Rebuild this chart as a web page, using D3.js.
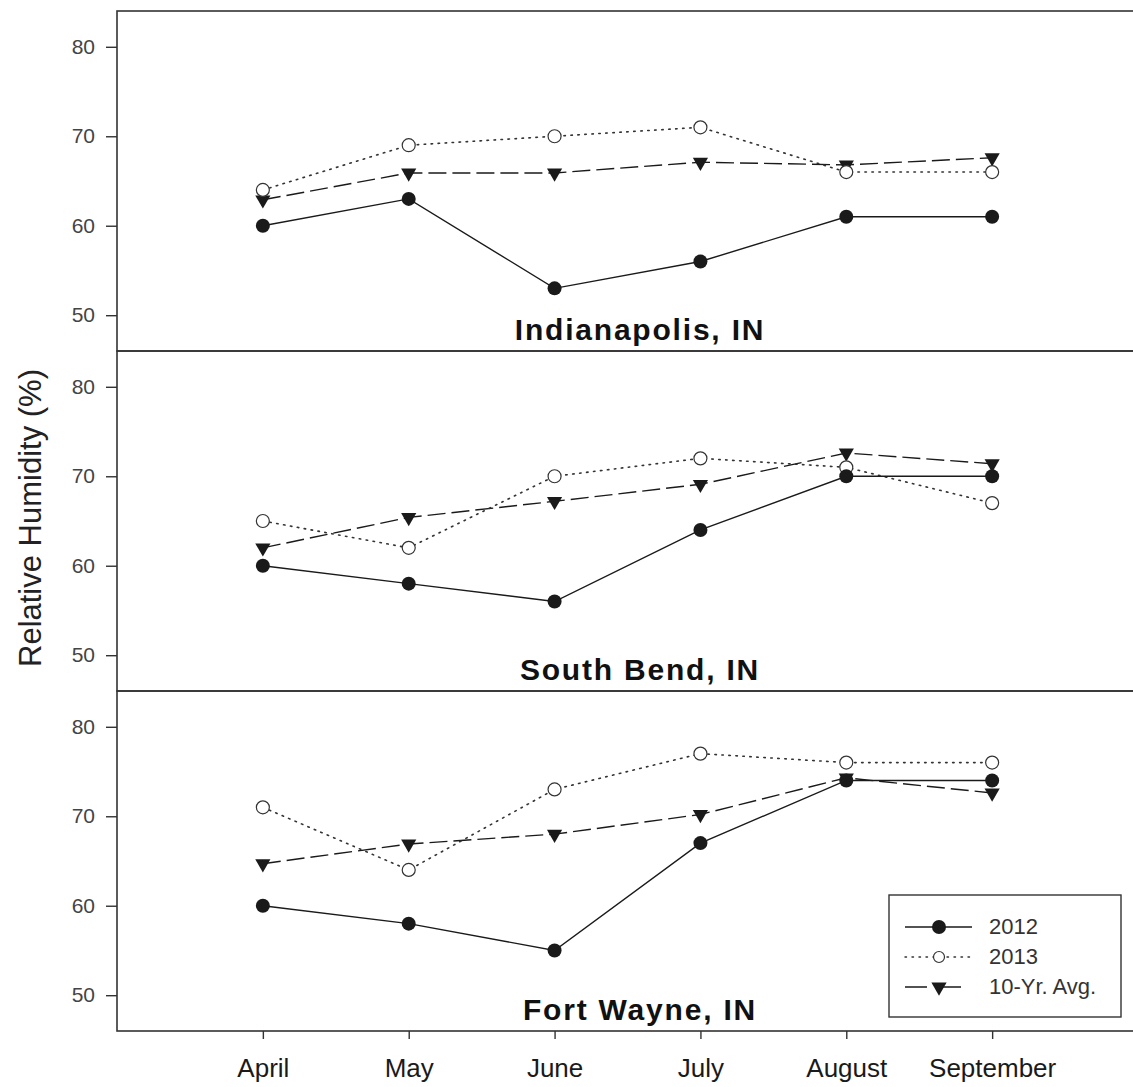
<!DOCTYPE html>
<html>
<head>
<meta charset="utf-8">
<script src="https://cdn.jsdelivr.net/npm/d3@7"></script>
<style>
  body { margin: 0; background: #fff; }
  svg { display: block; font-family: "Liberation Sans", Arial, sans-serif; }
</style>
</head>
<body>
<svg class="rh" width="1133" height="1087"></svg>
<script>
const months = ["April", "May", "June", "July", "August", "September"];
const yTicks = [50, 60, 70, 80];
const cities = ["Indianapolis, IN", "South Bend, IN", "Fort Wayne, IN"];
const seriesNames = ["2012", "2013", "10-Yr. Avg."];

// values, one array per city and series
const indy2012 = [60, 63, 53, 56, 61, 61];
const indy2013 = [64, 69, 70, 71, 66, 66];
const indyAvg  = [62.9, 65.9, 65.9, 67.1, 66.8, 67.6];
const sb2012   = [60, 58, 56, 64, 70, 70];
const sb2013   = [65, 62, 70, 72, 71, 67];
const sbAvg    = [62, 65.4, 67.2, 69.1, 72.6, 71.4];
const fw2012   = [60, 58, 55, 67, 74, 74];
const fw2013   = [71, 64, 73, 77, 76, 76];
const fwAvg    = [64.7, 66.9, 68, 70.2, 74.3, 72.6];

(function drawPanels() {
    const svg = d3.select("svg.rh");
    const left = 117, right = 1138, top = 11, panelH = 340;
    const ink = "#1a1a1a", axisInk = "#333";

    const panels = [
        [indy2012, indy2013, indyAvg],
        [sb2012, sb2013, sbAvg],
        [fw2012, fw2013, fwAvg]
    ];

    const styles = [
        {dash: null, marker: "filled"},
        {dash: "1.5,5.5", marker: "open"},
        {dash: "18,6", marker: "triangle"}
    ];

    const x = d3.scalePoint().domain(months).range([left, right]).padding(1);
    const tri = d3.symbol().type(d3.symbolTriangle).size(100);

    function drawMarker(sel, kind) {
        if (kind === "triangle") {
            sel.append("path")
                .attr("d", tri)
                .attr("transform", "rotate(180)")
                .attr("fill", ink);
        } else {
            sel.append("circle")
                .attr("r", kind === "filled" ? 7 : 6.5)
                .attr("fill", kind === "filled" ? ink : "#fff")
                .attr("stroke", kind === "filled" ? "none" : "#333")
                .attr("stroke-width", 1.2);
        }
    }

    panels.forEach(function(series, p) {
        const y0 = top + p * panelH;
        const y = d3.scaleLinear().domain([46, 84]).range([y0 + panelH, y0]);
        const g = svg.append("g");

        g.append("rect")
            .attr("x", left).attr("y", y0)
            .attr("width", right - left).attr("height", panelH)
            .attr("fill", "none").attr("stroke", axisInk).attr("stroke-width", 1.6);

        const yAxis = g.append("g")
            .attr("transform", "translate(" + left + ",0)")
            .call(d3.axisLeft(y).tickValues(yTicks).tickSize(11).tickPadding(11));
        yAxis.select(".domain").remove();
        yAxis.selectAll("line").attr("stroke", axisInk).attr("stroke-width", 1.4);
        yAxis.selectAll("text")
            .attr("fill", "#444")
            .style("font-size", "21px")
            .style("font-family", "'Liberation Sans', Arial, sans-serif");

        const line = d3.line()
            .x(function(d, i) { return x(months[i]); })
            .y(function(d) { return y(d); });

        // draw the avg first, then 2013, then 2012 on top
        [2, 1, 0].forEach(function(s) {
            g.append("path")
                .datum(series[s])
                .attr("d", line)
                .attr("fill", "none")
                .attr("stroke", s === 1 ? "#333" : ink)
                .attr("stroke-width", s === 1 ? 1.6 : 1.4)
                .attr("stroke-linecap", s === 1 ? "round" : "butt")
                .attr("stroke-dasharray", styles[s].dash);
            g.selectAll(".m" + s)
                .data(series[s])
                .enter()
                .append("g")
                .attr("class", "m" + s)
                .attr("transform", function(d, i) {
                    return "translate(" + x(months[i]) + "," + y(d) + ")";
                })
                .call(drawMarker, styles[s].marker);
        });

        g.append("text")
            .attr("x", 640)
            .attr("y", y0 + panelH - 11)
            .attr("text-anchor", "middle")
            .attr("fill", "#111")
            .style("font-size", "30px")
            .style("font-weight", "bold")
            .style("letter-spacing", "1.8px")
            .text(cities[p]);
    });

    const bottom = top + 3 * panelH;
    const xAxis = svg.append("g")
        .attr("transform", "translate(0," + bottom + ")")
        .call(d3.axisBottom(x).tickSize(8).tickPadding(20));
    xAxis.select(".domain").remove();
    xAxis.selectAll("line").attr("stroke", axisInk).attr("stroke-width", 1.4);
    xAxis.selectAll("text")
        .attr("fill", "#1a1a1a")
        .style("font-size", "26px")
        .style("font-family", "'Liberation Sans', Arial, sans-serif");

    svg.append("text")
        .attr("transform", "translate(41,518) rotate(-90)")
        .attr("text-anchor", "middle")
        .attr("fill", "#222")
        .style("font-size", "31px")
        .text("Relative Humidity (%)");

    // legend
    const lg = svg.append("g");
    lg.append("rect")
        .attr("x", 889).attr("y", 895)
        .attr("width", 232).attr("height", 122)
        .attr("fill", "#fff").attr("stroke", axisInk).attr("stroke-width", 1.4);
    seriesNames.forEach(function(name, s) {
        const ly = 927 + s * 30;
        lg.append("line")
            .attr("x1", 905).attr("x2", 972)
            .attr("y1", ly).attr("y2", ly)
            .attr("stroke", s === 1 ? "#333" : ink)
            .attr("stroke-width", 1.4)
            .attr("stroke-linecap", s === 1 ? "round" : "butt")
            .attr("stroke-dasharray", s === 2 ? "22,12" : styles[s].dash);
        const mk = lg.append("g").attr("transform", "translate(939," + ly + ")");
        if (s === 1) {
            mk.append("circle").attr("r", 5.5).attr("fill", "#fff")
                .attr("stroke", "#333").attr("stroke-width", 1.2);
        } else {
            drawMarker(mk, styles[s].marker);
        }
        lg.append("text")
            .attr("x", 989).attr("y", ly + 7)
            .attr("fill", "#333")
            .style("font-size", "22px")
            .text(name);
    });
})();
</script>
</body>
</html>
